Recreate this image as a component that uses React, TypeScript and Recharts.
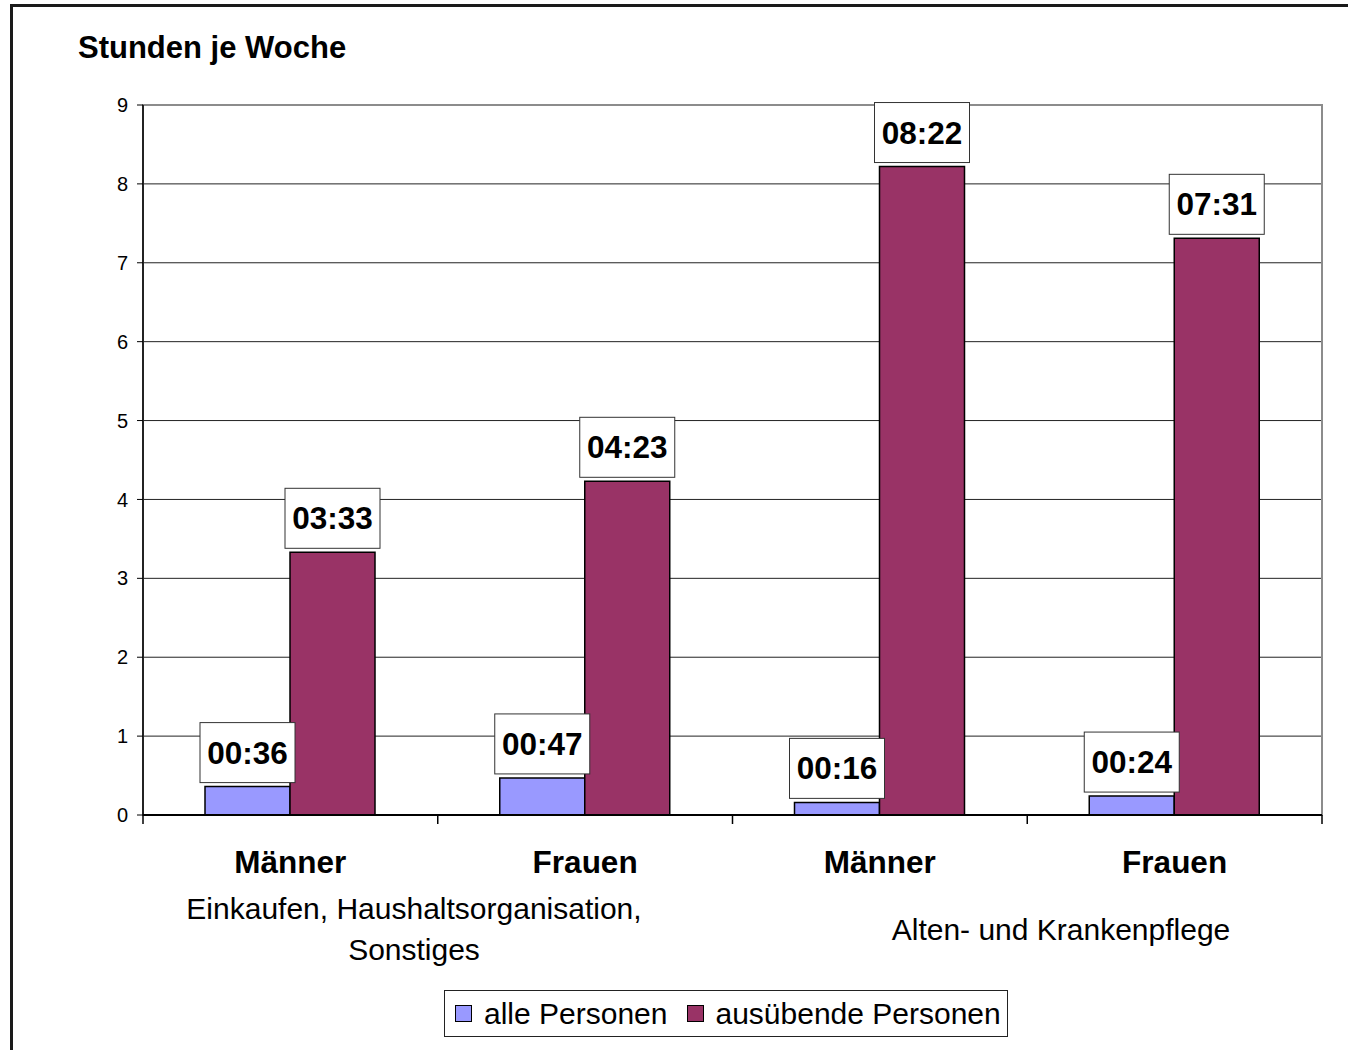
import React from "react";
import {
  Bar,
  BarChart,
  CartesianGrid,
  LabelList,
  ReferenceArea,
  XAxis,
  YAxis,
} from "recharts";

const categories = ["Männer", "Frauen", "Männer", "Frauen"];
const allePersonen = [0.36, 0.47, 0.16, 0.24];
const ausuebendePersonen = [3.33, 4.23, 8.22, 7.31];
const alleLabels = ["00:36", "00:47", "00:16", "00:24"];
const ausuebendeLabels = ["03:33", "04:23", "08:22", "07:31"];
const yTicks = [0, 1, 2, 3, 4, 5, 6, 7, 8, 9];

const data = categories.map((cat, i) => ({
  cat,
  alle: allePersonen[i],
  ausuebende: ausuebendePersonen[i],
  alleLabel: alleLabels[i],
  ausuebendeLabel: ausuebendeLabels[i],
}));

const FONT = "'Liberation Sans', Arial, sans-serif";
const BLUE = "#9999ff";
const PLUM = "#993366";

function BoxLabel(props: any) {
  const { x, y, width, value } = props;
  const cx = x + width / 2;
  return (
    <g>
      <rect x={cx - 47.5} y={y - 64} width={95} height={60} fill="#fff" stroke="#333" strokeWidth={1} />
      <text
        x={cx}
        y={y - 34}
        textAnchor="middle"
        dominantBaseline="central"
        fontFamily={FONT}
        fontWeight="bold"
        fontSize={31.5}
        fill="#000"
      >
        {value}
      </text>
    </g>
  );
}

// category label plus the tick marks on the band edges
function CatTick(props: any) {
  const { x, y, payload, index, visibleTicksCount } = props;
  const half = payload.offset || 0;
  const last = index === visibleTicksCount - 1;
  return (
    <g>
      {half > 0 && <line x1={x - half} x2={x - half} y1={y} y2={y + 9} stroke="#000" strokeWidth={1.5} />}
      {half > 0 && last && <line x1={x + half} x2={x + half} y1={y} y2={y + 9} stroke="#000" strokeWidth={1.5} />}
      <text x={x} y={y + 58} textAnchor="middle" fontFamily={FONT} fontWeight="bold" fontSize={31.5} fill="#000">
        {payload.value}
      </text>
    </g>
  );
}

export default function App() {
  return (
    <div
      style={{
        position: "absolute",
        left: 0,
        top: 0,
        width: 1348,
        height: 1050,
        overflow: "hidden",
        background: "#fff",
        fontFamily: FONT,
      }}
    >
      <div
        style={{
          position: "absolute",
          left: 10,
          top: 4,
          width: 1400,
          height: 1100,
          borderTop: "3px solid #1a1a1a",
          borderLeft: "3px solid #1a1a1a",
        }}
      />
      <div style={{ position: "absolute", left: 0, top: 0 }}>
        <BarChart
          width={1348}
          height={1050}
          data={data}
          margin={{ top: 105, right: 26, left: 0, bottom: 175 }}
          barGap={0}
          barSize={85}
        >
          <CartesianGrid vertical={false} stroke="#222" strokeWidth={1} />
          <ReferenceArea y1={0} y2={9} fill="none" stroke="#8c8c8c" strokeWidth={2} ifOverflow="visible" />
          <XAxis
            dataKey="cat"
            height={60}
            tickLine={false}
            tickSize={0}
            tickMargin={0}
            axisLine={{ stroke: "#000", strokeWidth: 2 }}
            tick={<CatTick />}
            interval={0}
          />
          <YAxis
            domain={[0, 9]}
            ticks={yTicks}
            width={143}
            tickSize={6}
            tickMargin={9}
            axisLine={{ stroke: "#000", strokeWidth: 1.5 }}
            tickLine={{ stroke: "#000" }}
            tick={{ fontSize: 20, fill: "#000", fontFamily: FONT }}
            interval={0}
          />
          <Bar dataKey="alle" fill={BLUE} stroke="#000" strokeWidth={1.5} isAnimationActive={false}>
            <LabelList dataKey="alleLabel" content={<BoxLabel />} />
          </Bar>
          <Bar dataKey="ausuebende" fill={PLUM} stroke="#000" strokeWidth={1.5} isAnimationActive={false}>
            <LabelList dataKey="ausuebendeLabel" content={<BoxLabel />} />
          </Bar>
        </BarChart>
      </div>
      <div
        style={{
          position: "absolute",
          left: 78,
          top: 33,
          fontSize: 31,
          lineHeight: "30px",
          fontWeight: "bold",
          whiteSpace: "nowrap",
        }}
      >
        Stunden je Woche
      </div>
      <div
        style={{
          position: "absolute",
          left: 114,
          width: 600,
          top: 888,
          fontSize: 30,
          lineHeight: "41px",
          textAlign: "center",
        }}
      >
        Einkaufen, Haushaltsorganisation,
        <br />
        Sonstiges
      </div>
      <div
        style={{
          position: "absolute",
          left: 761,
          width: 600,
          top: 909,
          fontSize: 30,
          lineHeight: "41px",
          textAlign: "center",
        }}
      >
        Alten- und Krankenpflege
      </div>
      <div
        style={{
          position: "absolute",
          left: 444,
          top: 990,
          width: 562,
          height: 45,
          border: "1px solid #222",
          display: "flex",
          alignItems: "center",
          fontSize: 30,
          whiteSpace: "nowrap",
        }}
      >
        <span style={{ width: 15, height: 15, background: BLUE, border: "1px solid #000", marginLeft: 10 }} />
        <span style={{ marginLeft: 12 }}>alle Personen</span>
        <span style={{ width: 15, height: 15, background: PLUM, border: "1px solid #000", marginLeft: 20 }} />
        <span style={{ marginLeft: 11 }}>ausübende Personen</span>
      </div>
    </div>
  );
}
